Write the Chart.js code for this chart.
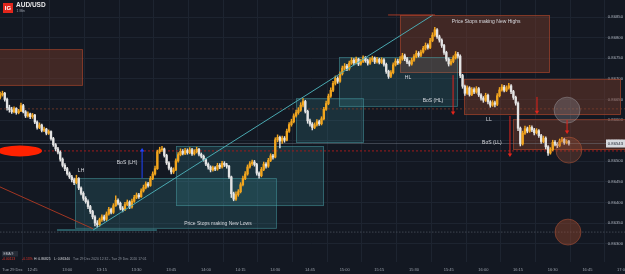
<!DOCTYPE html>
<html><head><meta charset="utf-8">
<script src="https://cdn.jsdelivr.net/npm/chart.js@4.4.1/dist/chart.umd.min.js"></script>
<style>html,body{margin:0;padding:0;background:#131822;overflow:hidden}canvas{display:block}</style>
</head><body>
<canvas id="c" width="625" height="274"></canvas>
<script>
// ---------- DATA ----------
const symbol = 'AUD/USD';
const interval = '1 Min';
const dayLabel = 'Tue 29 Dec';
const startMinute = 31;            // first candle 12:31 (minutes after 12:00)
const firstOpen = 0.86655;
const closes = [
0.86661,0.86665,0.86650,0.86630,0.86625,0.86620,0.86628,0.86618,0.86622,0.86635,
0.86620,0.86610,0.86615,0.86608,0.86612,0.86595,0.86582,0.86588,0.86575,0.86578,
0.86568,0.86572,0.86555,0.86540,0.86530,0.86522,0.86505,0.86490,0.86482,0.86470,
0.86462,0.86455,0.86448,0.86458,0.86435,0.86422,0.86410,0.86402,0.86390,0.86378,
0.86365,0.86350,0.86346,0.86358,0.86365,0.86359,0.86372,0.86383,0.86376,0.86392,
0.86405,0.86398,0.86386,0.86382,0.86395,0.86401,0.86389,0.86403,0.86412,0.86418,
0.86414,0.86428,0.86436,0.86445,0.86441,0.86458,0.86469,0.86482,0.86523,0.86528,
0.86530,0.86514,0.86496,0.86483,0.86474,0.86479,0.86501,0.86516,0.86524,0.86519,
0.86526,0.86521,0.86528,0.86518,0.86523,0.86529,0.86517,0.86512,0.86504,0.86493,
0.86486,0.86479,0.86484,0.86481,0.86490,0.86486,0.86495,0.86491,0.86488,0.86462,
0.86421,0.86408,0.86419,0.86426,0.86443,0.86458,0.86469,0.86486,0.86494,0.86498,
0.86492,0.86471,0.86465,0.86480,0.86493,0.86488,0.86502,0.86513,0.86510,0.86552,
0.86558,0.86549,0.86556,0.86551,0.86573,0.86589,0.86596,0.86610,0.86618,0.86624,
0.86636,0.86645,0.86621,0.86598,0.86590,0.86582,0.86588,0.86596,0.86591,0.86603,
0.86626,0.86640,0.86658,0.86672,0.86689,0.86701,0.86694,0.86712,0.86726,0.86731,
0.86724,0.86738,0.86745,0.86739,0.86748,0.86736,0.86742,0.86751,0.86744,0.86738,
0.86746,0.86750,0.86741,0.86747,0.86740,0.86746,0.86735,0.86718,0.86706,0.86715,
0.86734,0.86743,0.86739,0.86748,0.86756,0.86749,0.86741,0.86736,0.86745,0.86754,
0.86762,0.86757,0.86765,0.86774,0.86781,0.86776,0.86793,0.86806,0.86819,0.86802,
0.86794,0.86781,0.86764,0.86748,0.86736,0.86742,0.86751,0.86760,0.86755,0.86708,
0.86682,0.86665,0.86678,0.86662,0.86674,0.86668,0.86676,0.86661,0.86653,0.86648,
0.86660,0.86644,0.86636,0.86642,0.86638,0.86659,0.86673,0.86680,0.86672,0.86678,
0.86683,0.86669,0.86655,0.86641,0.86580,0.86542,0.86568,0.86579,0.86573,0.86582,
0.86576,0.86569,0.86574,0.86562,0.86548,0.86556,0.86535,0.86520,0.86528,0.86546,
0.86541,0.86538,0.86549,0.86553,0.86545,0.86548,0.86543];
const highs = [
0.86668,0.86670,0.86667,0.86653,0.86636,0.86631,0.86632,0.86630,0.86626,0.86641,
0.86638,0.86623,0.86620,0.86617,0.86616,0.86614,0.86598,0.86593,0.86590,0.86583,
0.86580,0.86576,0.86574,0.86558,0.86543,0.86534,0.86525,0.86508,0.86494,0.86485,
0.86474,0.86466,0.86459,0.86466,0.86460,0.86438,0.86426,0.86414,0.86406,0.86393,
0.86381,0.86368,0.86356,0.86362,0.86370,0.86369,0.86377,0.86388,0.86386,0.86397,
0.86416,0.86409,0.86401,0.86390,0.86400,0.86406,0.86404,0.86408,0.86417,0.86423,
0.86422,0.86433,0.86442,0.86450,0.86449,0.86463,0.86474,0.86488,0.86527,0.86534,
0.86536,0.86532,0.86517,0.86499,0.86486,0.86484,0.86506,0.86521,0.86530,0.86528,
0.86531,0.86530,0.86533,0.86531,0.86528,0.86534,0.86531,0.86520,0.86515,0.86507,
0.86496,0.86489,0.86488,0.86487,0.86495,0.86494,0.86500,0.86499,0.86495,0.86490,
0.86464,0.86425,0.86426,0.86431,0.86448,0.86464,0.86475,0.86491,0.86499,0.86503,
0.86502,0.86495,0.86474,0.86485,0.86498,0.86497,0.86507,0.86518,0.86517,0.86557,
0.86564,0.86561,0.86561,0.86560,0.86578,0.86594,0.86602,0.86615,0.86624,0.86630,
0.86642,0.86652,0.86648,0.86624,0.86602,0.86594,0.86593,0.86601,0.86600,0.86608,
0.86631,0.86646,0.86663,0.86678,0.86694,0.86707,0.86705,0.86717,0.86731,0.86737,
0.86735,0.86743,0.86751,0.86749,0.86753,0.86750,0.86747,0.86756,0.86754,0.86748,
0.86751,0.86755,0.86753,0.86752,0.86750,0.86751,0.86749,0.86738,0.86721,0.86720,
0.86739,0.86749,0.86748,0.86754,0.86762,0.86760,0.86752,0.86744,0.86750,0.86759,
0.86768,0.86766,0.86770,0.86779,0.86787,0.86785,0.86798,0.86812,0.86825,0.86822,
0.86806,0.86797,0.86784,0.86767,0.86751,0.86747,0.86756,0.86766,0.86764,0.86758,
0.86711,0.86685,0.86683,0.86681,0.86679,0.86678,0.86681,0.86679,0.86664,0.86657,
0.86665,0.86663,0.86647,0.86647,0.86646,0.86664,0.86679,0.86686,0.86684,0.86683,
0.86689,0.86686,0.86672,0.86658,0.86644,0.86583,0.86573,0.86585,0.86583,0.86587,
0.86586,0.86580,0.86579,0.86577,0.86565,0.86561,0.86559,0.86538,0.86533,0.86551,
0.86550,0.86545,0.86554,0.86558,0.86556,0.86552,0.86551];
const lows = [
0.86651,0.86658,0.86646,0.86624,0.86619,0.86616,0.86617,0.86614,0.86615,0.86620,
0.86617,0.86606,0.86607,0.86603,0.86604,0.86591,0.86578,0.86579,0.86571,0.86572,
0.86564,0.86565,0.86551,0.86536,0.86525,0.86518,0.86500,0.86486,0.86477,0.86466,
0.86458,0.86450,0.86443,0.86445,0.86431,0.86418,0.86405,0.86398,0.86385,0.86373,
0.86360,0.86343,0.86340,0.86342,0.86354,0.86355,0.86356,0.86369,0.86372,0.86373,
0.86390,0.86394,0.86382,0.86377,0.86380,0.86392,0.86385,0.86386,0.86400,0.86409,
0.86410,0.86412,0.86425,0.86433,0.86437,0.86439,0.86455,0.86466,0.86480,0.86519,
0.86524,0.86510,0.86492,0.86479,0.86469,0.86470,0.86477,0.86498,0.86513,0.86515,
0.86516,0.86517,0.86518,0.86514,0.86515,0.86520,0.86513,0.86508,0.86500,0.86489,
0.86481,0.86474,0.86476,0.86477,0.86478,0.86482,0.86483,0.86487,0.86483,0.86458,
0.86412,0.86404,0.86405,0.86415,0.86423,0.86440,0.86455,0.86466,0.86483,0.86490,
0.86488,0.86466,0.86459,0.86462,0.86477,0.86483,0.86485,0.86499,0.86505,0.86508,
0.86547,0.86532,0.86543,0.86546,0.86549,0.86570,0.86585,0.86593,0.86607,0.86614,
0.86621,0.86632,0.86617,0.86592,0.86585,0.86576,0.86579,0.86585,0.86587,0.86588,
0.86600,0.86623,0.86637,0.86655,0.86669,0.86685,0.86689,0.86691,0.86709,0.86722,
0.86720,0.86721,0.86735,0.86734,0.86736,0.86732,0.86733,0.86739,0.86740,0.86733,
0.86735,0.86742,0.86737,0.86738,0.86736,0.86737,0.86731,0.86713,0.86701,0.86703,
0.86712,0.86731,0.86735,0.86736,0.86745,0.86744,0.86737,0.86731,0.86733,0.86742,
0.86751,0.86753,0.86754,0.86762,0.86770,0.86772,0.86773,0.86790,0.86803,0.86798,
0.86789,0.86776,0.86759,0.86743,0.86731,0.86733,0.86739,0.86748,0.86750,0.86703,
0.86677,0.86660,0.86662,0.86658,0.86659,0.86664,0.86665,0.86657,0.86648,0.86643,
0.86645,0.86639,0.86631,0.86633,0.86632,0.86635,0.86656,0.86670,0.86668,0.86669,
0.86675,0.86664,0.86650,0.86636,0.86574,0.86537,0.86539,0.86565,0.86569,0.86570,
0.86572,0.86564,0.86566,0.86558,0.86543,0.86545,0.86530,0.86514,0.86517,0.86525,
0.86537,0.86533,0.86535,0.86546,0.86541,0.86542,0.86539];
const timeTicks = [45,60,75,90,105,120,135,150,165,180,195,210,225,240,255,270,285,300];
const dayTick = 36.3;
const priceStep = 0.0005;
const changeText = '-0.00113';
const changePctText = '-0.13%';
const rangeText = 'Tue 29 Dec 2020 12:32 - Tue 29 Dec 2020 17:01';

// ---------- DRAWINGS (in time-minute / price units) ----------
const zones = [
  {t1:30,    t2:66.8,  p1:0.86772, p2:0.86683, kind:'supply'},
  {t1:203.9, t2:268.8, p1:0.86855, p2:0.86714, kind:'supply'},
  {t1:231.6, t2:299.5, p1:0.86700, p2:0.86612, kind:'supply'},
  {t1:252.8, t2:302,   p1:0.86602, p2:0.86527, kind:'supply'},
  {t1:63.4,  t2:150.7, p1:0.86459, p2:0.86336, kind:'demand'},
  {t1:107.1, t2:171.1, p1:0.86537, p2:0.86391, kind:'demand'},
  {t1:159.0, t2:188.4, p1:0.86653, p2:0.86544, kind:'demand'},
  {t1:177.6, t2:229.0, p1:0.86753, p2:0.86632, kind:'demand'}
];
const levels = [
  {p:0.86525, color:'#9e1c1c', dash:[2,2], w:1},
  {p:0.86627, color:'#7a3d2b', dash:[2,2], w:0.8},
  {p:0.86328, color:'#4a505c', dash:[1.5,1.5], w:0.8}
];
const segments = [
  {t1:71.2, p1:0.86333, t2:218.2, p2:0.86855, color:'#4aa9b1', w:1},
  {t1:55.6, p1:0.86333, t2:98.8,  p2:0.86333, color:'#3f9aa3', w:1},
  {t1:30,   p1:0.86440, t2:71.2,  p2:0.86336, color:'#b23a22', w:0.9},
  {t1:198.8,p1:0.86855, t2:219.1, p2:0.86855, color:'#a53a26', w:1}
];
const arrows = [
  {t:92.4,  from:0.86459, to:0.86532, color:'#1f44ff'},
  {t:226.9, from:0.86709, to:0.86612, color:'#e3241b'},
  {t:251.5, from:0.86610, to:0.86510, color:'#e3241b'},
  {t:263.2, from:0.86656, to:0.86614, color:'#e3241b'},
  {t:276.2, from:0.86600, to:0.86566, color:'#e3241b'}
];
const circles = [
  {t:276.2, p:0.86624, r:13, fill:'rgba(150,150,155,0.30)', stroke:'rgba(170,170,175,0.55)'},
  {t:277.0, p:0.86527, r:13, fill:'rgba(170,85,55,0.30)',  stroke:'rgba(190,90,55,0.7)'},
  {t:276.6, p:0.86328, r:13, fill:'rgba(150,70,45,0.45)',  stroke:'rgba(185,85,55,0.7)'}
];
const blob = {t:39.6, p:0.86525, rx:22, ry:5.5, color:'#ff2200'};
const notes = [
  {t:241.2, p:0.86840, text:'Price Stops making New Highs'},
  {t:125.2, p:0.86348, text:'Price Stops making New Lows'},
  {t:207.4, p:0.86702, text:'HL'},
  {t:218.2, p:0.86646, text:'BoS (HL)'},
  {t:242.4, p:0.86600, text:'LL'},
  {t:243.7, p:0.86544, text:'BoS (LL)'},
  {t:66.0,  p:0.86476, text:'LH'},
  {t:85.9,  p:0.86496, text:'BoS (LH)'}
];

// ---------- BUILD ----------
const UP = '#f2a51e', DOWN = '#e4e4e4';
const opens = closes.map((c,i)=> i===0 ? firstOpen : closes[i-1]);
const colors = closes.map((c,i)=> c >= opens[i] ? UP : DOWN);
const wickData = closes.map((c,i)=>({x:startMinute+i, y:[lows[i], highs[i]]}));
const bodyData = closes.map((c,i)=>({x:startMinute+i, y:[Math.min(opens[i],c), Math.max(opens[i],c)]}));
const lastPrice = closes[closes.length-1];
const hi = Math.max(...highs), lo = Math.min(...lows);
const fmtTime = m => { const h = 12 + Math.floor(m/60), mm = m % 60; return h + ':' + String(mm).padStart(2,'0'); };
const GRID = '#1d2430';
const FONT = "'Liberation Sans', Arial, sans-serif";

const overlay = {
  id:'overlay',
  beforeDatasetsDraw(chart){
    const {ctx, chartArea:a, scales:{x,y}} = chart;
    ctx.save();
    ctx.beginPath(); ctx.rect(a.left, a.top, 625-a.left, a.bottom-a.top); ctx.clip();
    zones.forEach(z=>{
      const x1=x.getPixelForValue(z.t1), x2=x.getPixelForValue(z.t2);
      const y1=y.getPixelForValue(z.p1), y2=y.getPixelForValue(z.p2);
      ctx.fillStyle = z.kind==='supply' ? 'rgba(122,60,42,0.45)' : 'rgba(62,150,160,0.20)';
      ctx.strokeStyle = z.kind==='supply' ? 'rgba(165,68,42,0.8)' : 'rgba(78,165,172,0.55)';
      ctx.lineWidth = 0.8;
      ctx.fillRect(x1, y1, x2-x1, y2-y1);
      ctx.strokeRect(x1+0.5, y1+0.5, x2-x1-1, y2-y1-1);
    });
    levels.forEach(l=>{
      const yy = y.getPixelForValue(l.p);
      ctx.strokeStyle=l.color; ctx.lineWidth=l.w; ctx.setLineDash(l.dash);
      ctx.beginPath(); ctx.moveTo(a.left, yy); ctx.lineTo(625, yy); ctx.stroke();
    });
    ctx.setLineDash([]);
    const yl = y.getPixelForValue(lastPrice);
    ctx.strokeStyle='rgba(120,126,138,0.55)'; ctx.lineWidth=0.8;
    ctx.beginPath(); ctx.moveTo(a.left, yl); ctx.lineTo(625, yl); ctx.stroke();
    ctx.restore();
  },
  afterDatasetsDraw(chart){
    const {ctx, chartArea:a, scales:{x,y}} = chart;
    ctx.save();
    ctx.beginPath(); ctx.rect(a.left, a.top, 625-a.left, a.bottom-a.top); ctx.clip();
    segments.forEach(s=>{
      ctx.strokeStyle=s.color; ctx.lineWidth=s.w;
      ctx.beginPath();
      ctx.moveTo(x.getPixelForValue(s.t1), y.getPixelForValue(s.p1));
      ctx.lineTo(x.getPixelForValue(s.t2), y.getPixelForValue(s.p2));
      ctx.stroke();
    });
    circles.forEach(c=>{
      ctx.beginPath();
      ctx.arc(x.getPixelForValue(c.t), y.getPixelForValue(c.p), c.r, 0, Math.PI*2);
      ctx.fillStyle=c.fill; ctx.fill();
      ctx.strokeStyle=c.stroke; ctx.lineWidth=0.7; ctx.stroke();
    });
    ctx.beginPath();
    ctx.ellipse(x.getPixelForValue(blob.t), y.getPixelForValue(blob.p), blob.rx, blob.ry, 0, 0, Math.PI*2);
    ctx.fillStyle=blob.color; ctx.fill();
    arrows.forEach(ar=>{
      const xx = x.getPixelForValue(ar.t), y1 = y.getPixelForValue(ar.from), y2 = y.getPixelForValue(ar.to);
      const dir = y2 > y1 ? 1 : -1;
      ctx.strokeStyle=ar.color; ctx.fillStyle=ar.color; ctx.lineWidth=1;
      ctx.beginPath(); ctx.moveTo(xx, y1); ctx.lineTo(xx, y2 - dir*3); ctx.stroke();
      ctx.beginPath(); ctx.moveTo(xx-2.2, y2-dir*3.5); ctx.lineTo(xx+2.2, y2-dir*3.5); ctx.lineTo(xx, y2); ctx.closePath(); ctx.fill();
    });
    ctx.fillStyle='#d9dbe0'; ctx.font='5px '+FONT; ctx.textAlign='center'; ctx.textBaseline='middle';
    notes.forEach(n=> ctx.fillText(n.text, x.getPixelForValue(n.t), y.getPixelForValue(n.p)));
    ctx.restore();
  },
  afterDraw(chart){
    const {ctx, scales:{y}} = chart;
    ctx.save();
    const yl = y.getPixelForValue(lastPrice);
    ctx.fillStyle='#d6d9de'; ctx.fillRect(606, yl-4, 19, 8);
    ctx.fillStyle='#1a1f2a'; ctx.font='4.2px '+FONT; ctx.textAlign='right'; ctx.textBaseline='middle';
    ctx.fillText(lastPrice.toFixed(5), 623, yl+0.3);
    ctx.fillStyle='#e2261c'; ctx.fillRect(3,3,10,10);
    ctx.fillStyle='#ffffff'; ctx.font='bold 6px '+FONT; ctx.textAlign='center'; ctx.textBaseline='middle';
    ctx.fillText('IG', 8, 8.3);
    ctx.textAlign='left'; ctx.font='bold 6.5px '+FONT; ctx.fillStyle='#e8e8ea';
    ctx.fillText(symbol, 16, 5.5);
    ctx.font='3.5px '+FONT; ctx.fillStyle='#9aa0aa';
    ctx.fillText(interval, 16.5, 11.3);
    ctx.fillStyle='#262c37'; ctx.fillRect(2, 251, 16, 5.5);
    ctx.fillStyle='#c8ccd4'; ctx.font='3.3px '+FONT; ctx.fillText('EMA 9', 3.5, 253.8);
    ctx.font='3.4px '+FONT; ctx.textBaseline='middle';
    ctx.fillStyle='#e0362b'; ctx.fillText(changeText, 2, 259.5); ctx.fillText(changePctText, 22, 259.5);
    ctx.fillStyle='#d7d9de'; ctx.fillText('H: '+hi.toFixed(5), 34, 259.5); ctx.fillText('L: '+lo.toFixed(5), 54, 259.5);
    ctx.fillStyle='#8e949e'; ctx.fillText(rangeText, 73, 259.5);
    ctx.restore();
  }
};

new Chart(document.getElementById('c'), {
  type:'bar',
  data:{ datasets:[
    {label:'wick', data:wickData, backgroundColor:colors, barThickness:0.8, grouped:false, order:2},
    {label:'body', data:bodyData, backgroundColor:colors, barThickness:1.7, minBarLength:0.8, grouped:false, order:1}
  ]},
  options:{
    responsive:false, animation:false, devicePixelRatio:1,
    layout:{padding:0},
    plugins:{legend:{display:false}, tooltip:{enabled:false}},
    scales:{
      x:{
        type:'linear', min:30.94, max:300.4, offset:false,
        afterFit:s=>{ s.height = 12; s.paddingLeft = 0; s.paddingRight = 0; },
        afterBuildTicks:s=>{ s.ticks = [dayTick, ...timeTicks].map(v=>({value:v})); },
        grid:{ drawTicks:false, color:c=> (c.tick && c.tick.value===dayTick) ? 'rgba(0,0,0,0)' : GRID },
        border:{display:false},
        ticks:{ autoSkip:false, maxRotation:0, padding:5, color:'#9aa0aa', font:{size:4, family:FONT},
          callback:v=> v===dayTick ? dayLabel : fmtTime(v) }
      },
      y:{
        type:'linear', position:'right', min:0.862554, max:0.868913,
        afterFit:s=>{ s.width = 2; s.paddingTop = 0; s.paddingBottom = 0; },
        grid:{ drawTicks:false, color:GRID },
        border:{display:false},
        ticks:{ mirror:true, padding:0, stepSize:priceStep, includeBounds:false, color:'#a9aeb8',
          font:{size:4.2, family:FONT}, callback:v=> v.toFixed(5) }
      }
    }
  },
  plugins:[overlay]
});
</script>
</body></html>
